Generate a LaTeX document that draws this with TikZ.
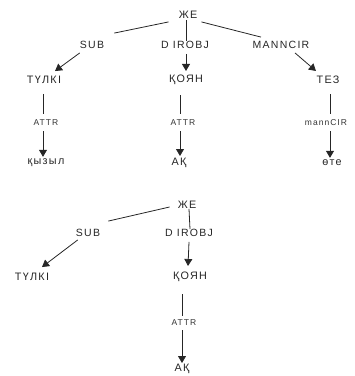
\documentclass[tikz,border=0pt]{standalone}
\usepackage{fontspec}
\setmainfont{Liberation Sans}
\newfontfamily\treefont[LetterSpace=12]{Liberation Sans}
\usetikzlibrary{arrows.meta}
\tikzset{
  word/.style={font=\treefont\fontsize{10.8}{12}\selectfont, inner sep=0pt, text=black!85},
  rel/.style={font=\treefont\fontsize{10.5}{12}\selectfont, inner sep=0pt, text=black!85},
  small/.style={font=\treefont\fontsize{8.5}{10}\selectfont, inner sep=0pt, text=black!80},
  link/.style={draw=black!85, line width=0.8pt},
  arr/.style={link, -{Triangle[length=7pt,width=8pt]}}
}
\begin{document}
\begin{tikzpicture}[x=1pt,y=-1pt]
\useasboundingbox (0,0) rectangle (355,376);
% upper tree
\node[word] (je1) at (188,15) {ЖЕ};
\node[rel] (sub1) at (92,45) {SUB};
\node[rel] (dir1) at (185,45) {D IROBJ};
\node[rel] (man1) at (281,45) {MANNCIR};
\node[word] (tul1) at (44,80) {ТҮЛКІ};
\node[word] (qoy1) at (186,80) {ҚОЯН};
\node[word] (tez1) at (328,80) {ТЕЗ};
\node[small] (at1) at (46,123) {ATTR};
\node[small] (at2) at (183,123) {ATTR};
\node[small] (mc1) at (326,123) {mannCIR};
\node[word] (qyz1) at (46,163) {қызыл};
\node[word] (aq1) at (179,163) {АҚ};
\node[word] (ote1) at (332,163) {өте};

\draw[link] (je1.south west) ++(-10,3) -- ([shift={(10,-8)}]sub1.north east);
\draw[link] (je1.south) ++(-2,1) -- ([xshift=1pt]dir1.north);
\draw[link] (je1.south east) ++(4,3) -- ([shift={(-20,-4)}]man1.north);
\draw[arr] (sub1.south west) ++(0,4) -- ([shift={(11,-5)}]tul1.north);
\draw[arr] ([shift={(1,5)}]dir1.south) -- ([shift={(0,-4)}]qoy1.north);
\draw[arr] ([shift={(14,4)}]man1.south) -- ([shift={(-12,-5)}]tez1.north);

\draw[link] ([shift={(-1,10)}]tul1.south) -- ([shift={(-3,-6)}]at1.north);
\draw[arr] ([shift={(-3,5)}]at1.south) -- ([shift={(-3,-2)}]qyz1.north);
\draw[link] ([shift={(-6,10)}]qoy1.south) -- ([shift={(-3,-6)}]at2.north);
\draw[arr] ([shift={(-3,5)}]at2.south) -- ([shift={(1,-2)}]aq1.north);
\draw[link] ([shift={(2,10)}]tez1.south) -- ([shift={(4,-6)}]mc1.north);
\draw[arr] ([shift={(4,5)}]mc1.south) -- ([shift={(-2,-2)}]ote1.north);

% lower tree
\node[word] (je2) at (187,205) {ЖЕ};
\node[rel] (sub2) at (88,233) {SUB};
\node[rel] (dir2) at (189,233) {D IROBJ};
\node[word] (tul2) at (32,277) {ТҮЛКІ};
\node[word] (qoy2) at (190,277) {ҚОЯН};
\node[small] (at3) at (184,323) {ATTR};
\node[word] (aq2) at (182,369) {АҚ};

\draw[link] (je2.west) ++(-8,2) -- ([shift={(8,-8)}]sub2.north east);
\draw[link] ([xshift=2pt]je2.south) -- ([xshift=1pt]dir2.north);
\draw[arr] (sub2.south west) ++(2,3) -- ([shift={(10,-6)}]tul2.north);
\draw[arr] ([shift={(0,5)}]dir2.south) -- ([shift={(-2,-6)}]qoy2.north);
\draw[link] ([shift={(-8,12)}]qoy2.south) -- ([shift={(-2,-4)}]at3.north);
\draw[arr] ([shift={(-2,4)}]at3.south) -- ([shift={(0,-1)}]aq2.north);
\end{tikzpicture}
\end{document}
